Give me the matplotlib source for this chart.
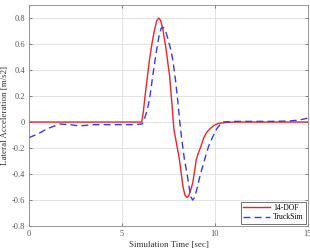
import matplotlib
matplotlib.use("Agg")
import matplotlib.pyplot as plt

t_dof = [0, 6.06, 6.15, 6.22, 6.35, 6.48, 6.62, 6.75, 6.87, 6.98, 7.08, 7.2, 7.35, 7.45, 7.56, 7.68, 7.79,
         7.95, 8.09, 8.27, 8.38, 8.48, 8.58, 8.7, 8.8, 8.9, 8.99, 9.1, 9.25, 9.4, 9.55, 9.7, 9.95, 10.2, 10.6, 11, 15]
a_dof = [0, 0, 0.08, 0.175, 0.33, 0.48, 0.61, 0.71, 0.78, 0.80, 0.78, 0.71, 0.58, 0.47, 0.355, 0.15, -0.056,
         -0.18, -0.29, -0.49, -0.56, -0.58, -0.57, -0.52, -0.47, -0.38, -0.29, -0.24, -0.185, -0.12, -0.08, -0.056, -0.025, -0.01, -0.003, 0, 0]

t_ts = [0, 0.5, 1.0, 1.66, 2.2, 2.7, 3.5, 4.5, 5.5, 6.09, 6.2, 6.35, 6.48, 6.66, 6.84, 7.0, 7.1, 7.2, 7.32, 7.45,
        7.6, 7.73, 7.87, 8.0, 8.1, 8.22, 8.36, 8.5, 8.63, 8.72, 8.8, 8.9, 9.0, 9.07, 9.2, 9.34, 9.5, 9.66, 9.86,
        10.1, 10.4, 11, 12, 13, 14, 14.5, 15]
a_ts = [-0.12, -0.09, -0.05, -0.015, -0.02, -0.03, -0.02, -0.02, -0.02, -0.015, 0.02, 0.09, 0.175, 0.36, 0.535, 0.67, 0.72, 0.73, 0.71, 0.65,
        0.57, 0.48, 0.33, 0.16, 0.01, -0.14, -0.29, -0.40, -0.52, -0.58, -0.60, -0.58, -0.53, -0.49, -0.41, -0.34, -0.26, -0.185, -0.12,
        -0.05, 0.0, 0.005, 0.005, 0.005, 0.008, 0.015, 0.03]

plt.rcParams['font.family'] = ['Liberation Serif', 'DejaVu Serif']

fig = plt.figure(figsize=(3.1, 2.52), dpi=100)
ax = fig.add_axes([0.0935, 0.103, 0.9, 0.877])
ax.plot(t_dof, a_dof, color='#e8252a', lw=1.0, label='14-DOF')
ax.plot(t_ts, a_ts, color='#3a3ae0', lw=1.0, ls=(0, (5, 3)), label='TruckSim')
ax.set_xlim(0, 15)
ax.set_ylim(-0.8, 0.9)
ax.set_xticks([0, 5, 10, 15])
ax.set_yticks([-0.8, -0.6, -0.4, -0.2, 0, 0.2, 0.4, 0.6, 0.8])
ax.set_yticklabels(['-0.8', '-0.6', '-0.4', '-0.2', '0', '0.2', '0.4', '0.6', '0.8'])
ax.grid(True, color='#dddddd', lw=0.6)
ax.tick_params(direction='in', labelsize=6, colors='#555555', length=2.5, width=0.5, top=True, right=True, pad=3)
for s in ax.spines.values():
    s.set_color('#888888')
    s.set_linewidth(0.6)
ax.set_xlabel('Simulation Time [sec]', fontsize=6.5, color='#333333', labelpad=2)
ax.set_ylabel('Lateral Acceleration [m/s2]', fontsize=6.5, color='#333333', labelpad=2)
leg = ax.legend(loc='lower right', fontsize=5.5, frameon=True, fancybox=False, borderpad=0.3,
                handlelength=3.5, labelspacing=0.2, borderaxespad=0.3, handletextpad=0.4)
leg.get_frame().set_edgecolor('#333333')
leg.get_frame().set_linewidth(0.6)
fig.savefig('out.png', dpi=100)
